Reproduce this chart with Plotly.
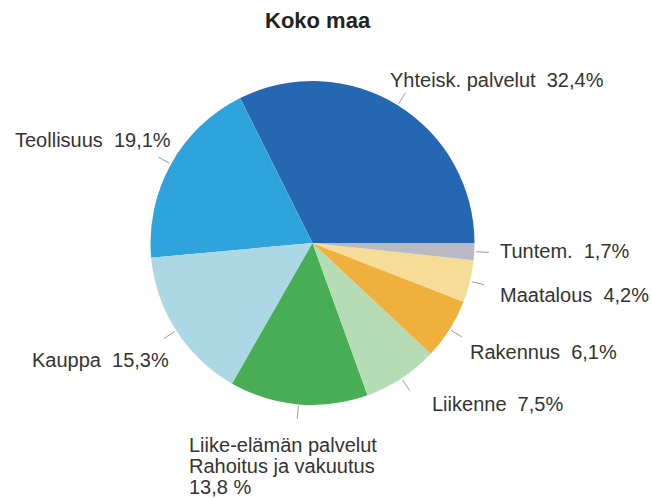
import math
import plotly.graph_objects as go

# ---- data ----
categories = ["Yhteisk. palvelut", "Teollisuus", "Kauppa",
              "Liike-elämän palvelut<br>Rahoitus ja vakuutus",
              "Liikenne", "Rakennus", "Maatalous", "Tuntem."]
values = [32.4, 19.1, 15.3, 13.8, 7.5, 6.1, 4.2, 1.7]
value_labels = ["32,4%", "19,1%", "15,3%", "13,8 %", "7,5%", "6,1%", "4,2%", "1,7%"]
label_lines = [
    ["Yhteisk. palvelut  32,4%"],
    ["Teollisuus  19,1%"],
    ["Kauppa  15,3%"],
    ["Liike-elämän palvelut", "Rahoitus ja vakuutus", "13,8 %"],
    ["Liikenne  7,5%"],
    ["Rakennus  6,1%"],
    ["Maatalous  4,2%"],
    ["Tuntem.  1,7%"],
]

# ---- style ----
colors = ["#2667b1", "#2fa3dc", "#acd7e4", "#48ae56",
          "#b6dcb6", "#f0b03c", "#f5dd97", "#b9b9c3"]
W, H = 652, 498
CX, CY, R = 312.5, 243, 162
# label anchor (left x, first-line middle y) in pixels
label_pos = [(388, 80), (13, 140), (30, 360), (187, 445),
             (430, 404), (468, 352), (498, 295), (498, 251)]
line_gap = 21
font_family = "Arial, 'Liberation Sans', sans-serif"
text_color = "#333333"

total = sum(values)
first_angle = values[0] / total * 360.0

fig = go.Figure(go.Pie(
    labels=categories,
    values=values,
    sort=False,
    direction="counterclockwise",
    rotation=90 - first_angle,
    marker=dict(colors=colors, line=dict(width=0)),
    textinfo="none",
    hoverinfo="label+percent",
    showlegend=False,
    domain=dict(x=[(CX - R) / W, (CX + R) / W],
                y=[1 - (CY + R) / H, 1 - (CY - R) / H]),
))

def px(x):
    return x / W

def py(y):
    return 1 - y / H

annotations = []
shapes = []
cum = 0.0
for i, v in enumerate(values):
    mid = (cum + v / 2) / total * 360.0
    cum += v
    a = math.radians(mid)
    x0 = CX + R * 1.01 * math.cos(a)
    y0 = CY - R * 1.01 * math.sin(a)
    x1 = CX + R * 1.09 * math.cos(a)
    y1 = CY - R * 1.09 * math.sin(a)
    shapes.append(dict(type="line", xref="paper", yref="paper",
                       x0=px(x0), y0=py(y0), x1=px(x1), y1=py(y1),
                       line=dict(color="#9a9aa8", width=1)))
    lx, ly = label_pos[i]
    for j, t in enumerate(label_lines[i]):
        annotations.append(dict(
            text=t, x=px(lx), y=py(ly + j * line_gap),
            xref="paper", yref="paper", xanchor="left", yanchor="middle",
            showarrow=False,
            font=dict(family=font_family, size=20, color=text_color)))

annotations.append(dict(
    text="<b>Koko maa</b>", x=px(318), y=py(20), xref="paper", yref="paper",
    xanchor="center", yanchor="middle", showarrow=False,
    font=dict(family=font_family, size=22, color="#222222")))

fig.update_layout(
    width=W, height=H, autosize=False,
    margin=dict(l=0, r=0, t=0, b=0),
    paper_bgcolor="white", plot_bgcolor="white",
    annotations=annotations, shapes=shapes,
)

fig.write_html("out.html")
